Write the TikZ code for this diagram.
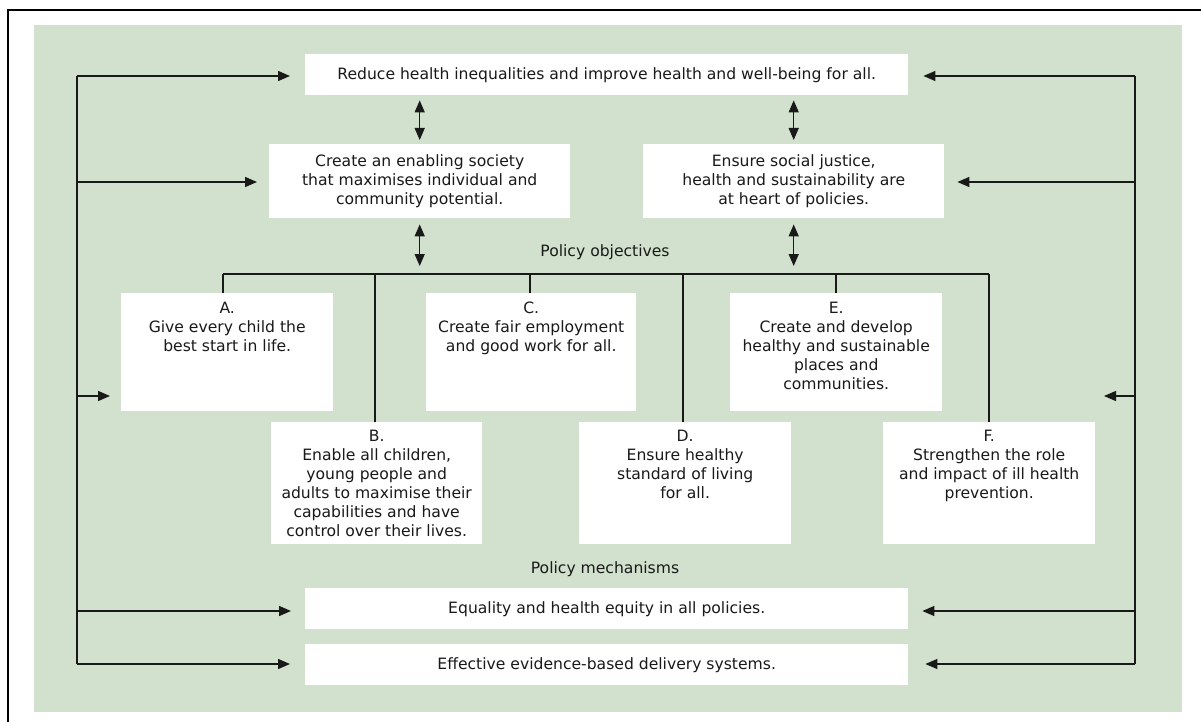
\documentclass[tikz,border=0pt]{standalone}
\usepackage{fontspec}
\setmainfont{DejaVu Sans}
\usetikzlibrary{arrows.meta}
\definecolor{bggreen}{RGB}{209,225,205}
\definecolor{ink}{RGB}{25,25,25}
\begin{document}
\begin{tikzpicture}[x=1pt,y=-1pt,
  wbox/.style={fill=white, draw=none, inner sep=0pt, anchor=north west},
  txt/.style={font=\fontsize{15.6}{19}\selectfont, text=ink, align=center, inner sep=0pt},
  conn/.style={line width=1.4pt, draw=ink},
  tip/.tip={Triangle[length=12pt,width=10pt]},
  arr/.style={conn, -tip},
  darr/.style={conn, tip-tip}]
\useasboundingbox (0,0) rectangle (1201,722);
% frame and background
\draw[line width=2.2pt, black] (8,723) -- (8,10) -- (1202,10);
\fill[bggreen] (34,25) rectangle (1182,712);

% top level boxes
\node[wbox, txt, minimum width=603pt, minimum height=41pt] (top) at (305,54)
  {Reduce health inequalities and improve health and well-being for all.};
\node[wbox, txt, minimum width=301pt, minimum height=74pt] (soc) at (269,144)
  {Create an enabling society\\that maximises individual and\\community potential.};
\node[wbox, txt, minimum width=301pt, minimum height=74pt] (just) at (643,144)
  {Ensure social justice,\\health and sustainability are\\at heart of policies.};

\node[txt] (polobj) at (605,252) {Policy objectives};

% objective boxes
\node[wbox, minimum width=212pt, minimum height=118pt] (A) at (121,293) {};
\node[wbox, minimum width=210pt, minimum height=118pt] (C) at (426,293) {};
\node[wbox, minimum width=212pt, minimum height=118pt] (E) at (730,293) {};
\node[wbox, minimum width=211pt, minimum height=122pt] (B) at (271,422) {};
\node[wbox, minimum width=212pt, minimum height=122pt] (D) at (579,422) {};
\node[wbox, minimum width=212pt, minimum height=122pt] (F) at (883,422) {};

\node[txt, anchor=north, yshift=-8.5pt] (Atxt) at (A.north) {A.\\Give every child the\\best start in life.};
\node[txt, anchor=north, yshift=-8.5pt] (Ctxt) at (C.north) {C.\\Create fair employment\\and good work for all.};
\node[txt, anchor=north, yshift=-8.5pt] (Etxt) at (E.north) {E.\\Create and develop\\healthy and sustainable\\places and\\communities.};
\node[txt, anchor=north, yshift=-8pt] (Btxt) at (B.north) {B.\\Enable all children,\\young people and\\adults to maximise their\\capabilities and have\\control over their lives.};
\node[txt, anchor=north, yshift=-8pt] (Dtxt) at (D.north) {D.\\Ensure healthy\\standard of living\\for all.};
\node[txt, anchor=north, yshift=-8pt] (Ftxt) at (F.north) {F.\\Strengthen the role\\and impact of ill health\\prevention.};

\node[txt] (polmech) at (605,569) {Policy mechanisms};

% mechanism boxes
\node[wbox, txt, minimum width=603pt, minimum height=41pt] (eq) at (305,588)
  {Equality and health equity in all policies.};
\node[wbox, txt, minimum width=603pt, minimum height=41pt] (eff) at (305,644)
  {Effective evidence-based delivery systems.};

% bus
\coordinate (dA) at (223,274);
\coordinate (dB) at (375,274);
\coordinate (dC) at (530,274);
\coordinate (dD) at (683,274);
\coordinate (dE) at (836,274);
\coordinate (dF) at (989,274);
\draw[conn] (dA) -- (dF);
\draw[conn] (dA) -- (dA |- A.north);
\draw[conn] (dB) -- (dB |- B.north);
\draw[conn] (dC) -- (dC |- C.north);
\draw[conn] (dD) -- (dD |- D.north);
\draw[conn] (dE) -- (dE |- E.north);
\draw[conn] (dF) -- (dF |- F.north);

% double arrows
\draw[darr, shorten <=5pt, shorten >=4pt] (soc.north |- top.south) -- (soc.north);
\draw[darr, shorten <=5pt, shorten >=4pt] (just.north |- top.south) -- (just.north);
\draw[darr, shorten <=6pt, shorten >=8pt] (soc.south) -- (soc.south |- dA);
\draw[darr, shorten <=6pt, shorten >=8pt] (just.south) -- (just.south |- dA);

% left feedback
\coordinate (L1) at (77,76);
\coordinate (L2) at (77,182);
\coordinate (L3) at (77,396);
\coordinate (L4) at (77,611);
\coordinate (L5) at (77,664);
\draw[conn] (L1) -- (L5);
\draw[arr, shorten >=15pt] (L1) -- (L1 -| top.west);
\draw[arr, shorten >=12pt] (L2) -- (L2 -| soc.west);
\draw[arr, shorten >=11pt] (L3) -- (L3 -| A.west);
\draw[arr, shorten >=14pt] (L4) -- (L4 -| eq.west);
\draw[arr, shorten >=15pt] (L5) -- (L5 -| eff.west);

% right feedback
\coordinate (R1) at (1135,76);
\coordinate (R2) at (1135,182);
\coordinate (R3) at (1135,396);
\coordinate (R4) at (1135,611);
\coordinate (R5) at (1135,664);
\coordinate (R3end) at (1104,396);
\draw[conn] (R1) -- (R5);
\draw[arr, shorten >=15pt] (R1) -- (R1 -| top.east);
\draw[arr, shorten >=13pt] (R2) -- (R2 -| just.east);
\draw[arr] (R3) -- (R3end);
\draw[arr, shorten >=14pt] (R4) -- (R4 -| eq.east);
\draw[arr, shorten >=17pt] (R5) -- (R5 -| eff.east);
\end{tikzpicture}
\end{document}
